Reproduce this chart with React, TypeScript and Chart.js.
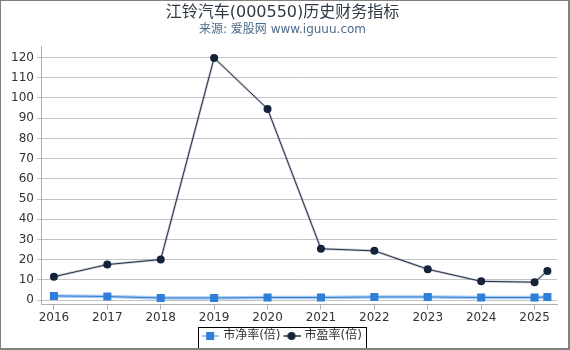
import React, { useEffect, useRef } from "react";
import { Chart, registerables } from "chart.js";

Chart.register(...registerables);

const titleText = "江铃汽车(000550)历史财务指标";
const subtitleText = "来源: 爱股网 www.iguuu.com";
const seriesNames = ["市净率(倍)", "市盈率(倍)"];
const xValues = [2016, 2017, 2018, 2019, 2020, 2021, 2022, 2023, 2024, 2025, 2025.24];
const pbValues = [2.1, 1.8, 1.1, 1.1, 1.3, 1.3, 1.6, 1.6, 1.3, 1.3, 1.6];
const peValues = [11.6, 17.6, 20.1, 119.8, 94.6, 25.4, 24.4, 15.3, 9.3, 8.9, 14.4];
const xTickYears = [2016, 2017, 2018, 2019, 2020, 2021, 2022, 2023, 2024, 2025];
const yTickValues = [0, 10, 20, 30, 40, 50, 60, 70, 80, 90, 100, 110, 120];

const FONT = "'DejaVu Sans', 'Noto Sans CJK SC', sans-serif";
const PB_COLOR = "#2f7ed8";
const PB_HALO = "rgba(140,185,235,0.75)";
const PE_COLOR = "#14233a";
const PE_LINE = "#22304a";
const PE_HALO = "rgba(120,128,140,0.4)";

function makeSymbol(lineColor: string, markerColor: string, shape: "rect" | "circle") {
  const c = document.createElement("canvas");
  c.width = 18;
  c.height = 10;
  const ctx = c.getContext("2d")!;
  ctx.strokeStyle = lineColor;
  ctx.lineWidth = 2;
  ctx.beginPath();
  ctx.moveTo(1, 5);
  ctx.lineTo(18, 5);
  ctx.stroke();
  ctx.fillStyle = markerColor;
  if (shape === "rect") {
    ctx.fillRect(5, 1, 8, 8);
  } else {
    ctx.beginPath();
    ctx.arc(9, 5, 4, 0, Math.PI * 2);
    ctx.fill();
  }
  return c;
}

const legendFrame = {
  id: "legendFrame",
  afterDraw(chart: any) {
    const lg = chart.legend;
    if (!lg || !lg.legendHitBoxes || !lg.legendHitBoxes.length) return;
    const boxes = lg.legendHitBoxes;
    let left = Infinity, right = -Infinity, top = Infinity, bottom = -Infinity;
    for (const b of boxes) {
      left = Math.min(left, b.left);
      right = Math.max(right, b.left + b.width);
      top = Math.min(top, b.top);
      bottom = Math.max(bottom, b.top + b.height);
    }
    const ctx = chart.ctx;
    ctx.save();
    ctx.strokeStyle = "#000";
    ctx.lineWidth = 1;
    ctx.strokeRect(Math.round(left - 5) + 0.5, Math.round(top - 3) + 0.5, Math.round(right - left + 9), Math.round(bottom - top + 9));
    ctx.restore();
  },
};

export default function App() {
  const ref = useRef<HTMLCanvasElement | null>(null);
  useEffect(() => {
    if (!ref.current) return;
    const pbPts = xValues.map((x, i) => ({ x, y: pbValues[i] }));
    const pePts = xValues.map((x, i) => ({ x, y: peValues[i] }));
    const pbSym = makeSymbol(PB_HALO, PB_COLOR, "rect");
    const peSym = makeSymbol("#5a6475", PE_COLOR, "circle");
    const chart = new Chart(ref.current, {
      type: "line",
      data: {
        datasets: [
          { label: seriesNames[0], data: pbPts, borderColor: PB_COLOR, backgroundColor: PB_COLOR, borderWidth: 1, pointStyle: "rect", pointRadius: 5.7, pointBorderWidth: 0, pointBackgroundColor: PB_COLOR, order: 2, tension: 0 },
          { label: seriesNames[1], data: pePts, borderColor: PE_LINE, backgroundColor: PE_COLOR, borderWidth: 1, pointStyle: "circle", pointRadius: 4, pointBorderWidth: 0, pointBackgroundColor: PE_COLOR, order: 1, tension: 0 },
          { label: "_pbHalo", data: pbPts, borderColor: PB_HALO, borderWidth: 3.5, pointRadius: 0, order: 10, tension: 0 },
          { label: "_peHalo", data: pePts, borderColor: PE_HALO, borderWidth: 2.5, pointRadius: 0, order: 9, tension: 0 },
        ],
      },
      options: {
        animation: false,
        responsive: false,
        layout: { padding: { left: 7, right: 11, top: 1, bottom: -4 } },
        plugins: {
          title: { display: true, text: titleText, color: "#2e3a46", font: { family: FONT, size: 16, weight: "normal" }, padding: { top: 1, bottom: 0 } },
          subtitle: { display: true, text: subtitleText, color: "#4d6b8a", font: { family: FONT, size: 12, weight: "normal" }, padding: { top: 0, bottom: 10 } },
          tooltip: { enabled: false },
          legend: {
            position: "bottom",
            labels: {
              usePointStyle: true,
              pointStyleWidth: 14,
              color: "#333",
              font: { family: FONT, size: 12 },
              padding: 4,
              generateLabels: () => [
                { text: seriesNames[0], pointStyle: pbSym as any, fillStyle: PB_COLOR, strokeStyle: PB_COLOR, lineWidth: 0, hidden: false, datasetIndex: 0, fontColor: "#333" },
                { text: seriesNames[1], pointStyle: peSym as any, fillStyle: PE_COLOR, strokeStyle: PE_COLOR, lineWidth: 0, hidden: false, datasetIndex: 1, fontColor: "#333" },
              ],
            },
          },
        },
        scales: {
          x: {
            type: "linear",
            min: 2015.775,
            max: 2025.42,
            afterBuildTicks: (scale: any) => { scale.ticks = xTickYears.map((v) => ({ value: v })); },
            ticks: { color: "#333", font: { family: FONT, size: 12 }, padding: 1, autoSkip: false, maxRotation: 0, callback: (v: any) => String(v) },
            grid: { display: true, drawOnChartArea: false, drawTicks: true, tickLength: 5, color: "#b0b0b0" },
            border: { display: true, color: "#b0b0b0", width: 1 },
          },
          y: {
            type: "linear",
            min: -2.2,
            max: 125.4,
            afterBuildTicks: (scale: any) => { scale.ticks = yTickValues.map((v) => ({ value: v })); },
            ticks: { color: "#333", font: { family: FONT, size: 12 }, padding: 3, callback: (v: any) => String(v) },
            grid: { display: true, drawOnChartArea: true, drawTicks: true, tickLength: 5, color: "#c4c4c4" },
            border: { display: true, color: "#b0b0b0", width: 1 },
          },
        },
      },
      plugins: [legendFrame],
    } as any);
    return () => chart.destroy();
  }, []);
  return (
    <div style={{ position: "fixed", left: 0, top: 0, width: 570, height: 350, boxSizing: "border-box", borderStyle: "solid", borderColor: "#808080", borderWidth: "1px 2px 2px 1px", background: "#fff" }}>
      <canvas ref={ref} width={567} height={347} style={{ display: "block", width: 567, height: 347 }} />
    </div>
  );
}
